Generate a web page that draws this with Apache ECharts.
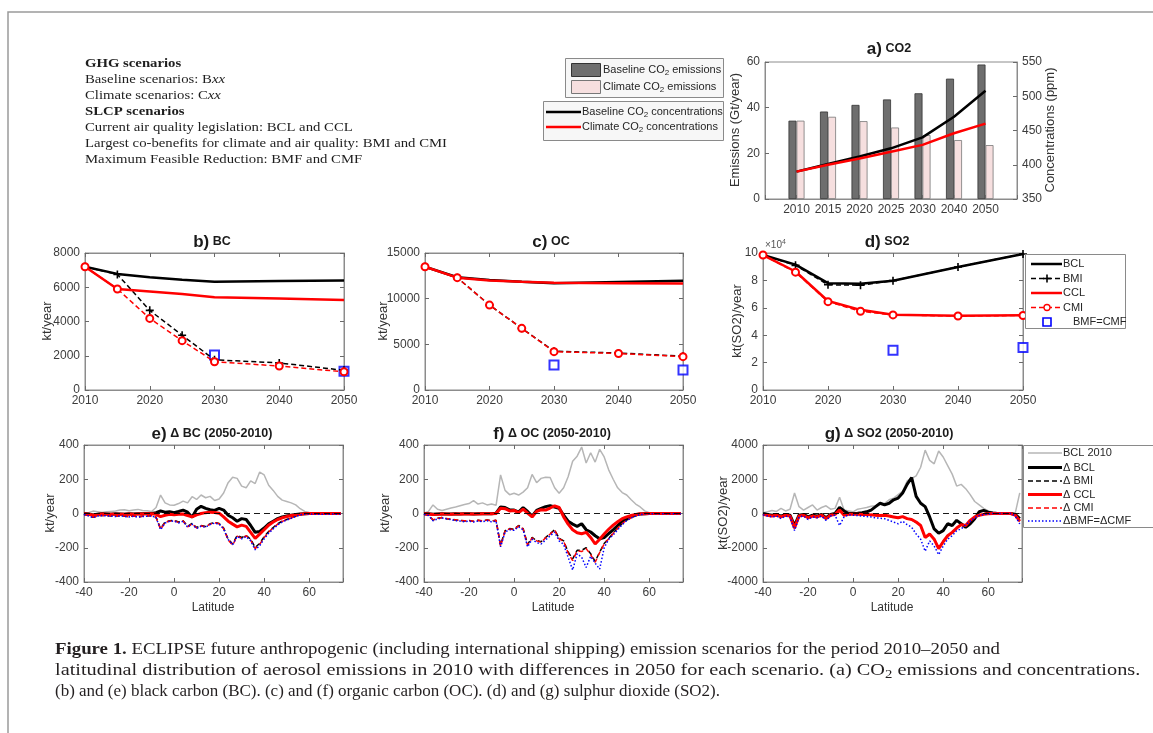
<!DOCTYPE html>
<html><head><meta charset="utf-8">
<script src="https://cdn.jsdelivr.net/npm/echarts@6/dist/echarts.min.js"></script>
<style>html,body{margin:0;padding:0;background:#fff}#c{width:1153px;height:733px}</style>
</head><body><div id="c"></div>
<script>
// ---------------- DATA ----------------
const co2Labels = ['2010','2015','2020','2025','2030','2040','2050'];
const co2EmisBaseline = [34.3, 38.3, 41.2, 43.6, 46.3, 52.7, 58.9];
const co2EmisClimate  = [34.3, 36.0, 34.1, 31.3, 28.0, 25.8, 23.6];
const co2ConcBaseline = [390, 401, 412, 424, 440, 470, 508];
const co2ConcClimate  = [390, 400, 409, 419, 429, 446, 460];

const years = [2010, 2015, 2020, 2025, 2030, 2040, 2050];
const mfYears = [2030, 2050];
const bcBCL = [7200, 6780, 6580, 6440, 6320, 6370, 6390];
const bcBMI = [7200, 6750, 4650, 3200, 1760, 1580, 1150];
const bcCCL = [7200, 5900, 5750, 5600, 5420, 5340, 5260];
const bcCMI = [7200, 5900, 4180, 2880, 1650, 1400, 1060];
const bcMF  = [2050, 1100];
const ocBCL = [13500, 12350, 12050, 11850, 11700, 11830, 11950];
const ocBMI = [13500, 12300, 9300, 6750, 4250, 4050, 3700];
const ocCCL = [13500, 12300, 12000, 11850, 11750, 11700, 11650];
const ocCMI = [13500, 12300, 9300, 6750, 4200, 4000, 3650];
const ocMF  = [2750, 2200];
const so2BCL = [98500, 91500, 78000, 77500, 79800, 89800, 99300];
const so2BMI = [98500, 91000, 76800, 76500, 79800, 89800, 99300];
const so2CCL = [98500, 86500, 65000, 58500, 55000, 54200, 54600];
const so2CMI = [98500, 86000, 64500, 57500, 54800, 54000, 54400];
const so2MF  = [29000, 31000];

const lats = [-40,-38,-36,-34,-32,-30,-28,-26,-24,-22,-20,-18,-16,-14,-12,-10,-8,-6,-4,-2,
  0,2,4,6,8,10,12,14,16,18,20,22,24,26,28,30,32,34,36,38,40,42,44,46,48,50,52,54,56,58,60,62,64,66,68,70,72,74];

const eBase = [2,4,14,10,6,10,12,14,20,22, 16,20,24,18,16,12,35,108,62,50, 48,58,72,62,98,82,108,92,100,76, 85,120,180,212,205,160,150,190,175,242, 225,165,135,100,78,70,62,50,28,12, 6,4,3,2,2,1,1,1];
const eBCL = [0,-3,-8,-5,-2,-3,-4,-2,-3,-4, -2,-3,-2,-1,0,0,5,15,8,10, 5,12,20,8,-22,25,42,30,22,18, 30,20,-10,-25,-45,-30,-35,-70,-110,-105, -85,-60,-45,-30,-20,-15,-10,-6,-3,-1, 0,0,0,0,0,0,0,0];
const eBMI = [-5,-12,-22,-14,-10,-12,-14,-16,-12,-16, -18,-14,-20,-16,-14,-12,-22,-88,-50,-42, -40,-50,-42,-75,-58,-82,-70,-76,-60,-52, -58,-85,-150,-178,-128,-140,-128,-150,-198,-175, -135,-105,-82,-60,-45,-35,-25,-15,-6,-3, -2,-3,-4,-3,-3,-2,-3,-2];
const eCCL = [-2,-4,-10,-6,-3,-4,-5,-4,-4,-5, -3,-4,-3,-3,-2,-2,-5,-18,-10,-4, -8,-5,-3,-12,-20,-8,0,5,8,6, 2,-20,-45,-62,-78,-68,-75,-110,-145,-120, -95,-68,-50,-35,-25,-18,-12,-8,-4,-2, 0,0,0,0,0,0,0,0];
const eCMI = [-5,-12,-21,-14,-10,-12,-13,-16,-12,-15, -18,-14,-19,-16,-14,-12,-22,-92,-52,-44, -42,-52,-44,-78,-60,-85,-72,-78,-62,-54, -60,-88,-155,-185,-132,-145,-130,-155,-205,-180, -140,-108,-84,-62,-46,-36,-26,-16,-6,-3, -2,-3,-4,-3,-3,-2,-3,-2];
const eBMF = [-6,-14,-24,-16,-12,-14,-15,-18,-14,-17, -20,-16,-21,-18,-16,-14,-24,-95,-55,-46, -44,-55,-46,-80,-62,-88,-74,-80,-64,-56, -62,-90,-152,-182,-134,-148,-135,-160,-212,-188, -148,-115,-90,-66,-50,-38,-28,-18,-8,-4, -3,-4,-5,-4,-4,-3,-4,-3];

const fBase = [2,12,50,25,18,25,32,38,45,52, 58,75,55,62,50,56,48,225,135,110, 118,108,125,150,228,180,205,212,210,150, 118,150,215,305,335,388,295,355,300,375, 330,255,200,150,122,108,80,55,38,15, 4,2,1,1,1,0,0,0];
const fBCL = [0,-2,-5,-3,-2,-3,-3,-2,-3,-2, -2,-3,-2,-2,-1,-1,2,38,35,22, 20,8,35,12,-15,18,30,40,45,38, 30,-10,-45,-62,-75,-60,-95,-108,-130,-148, -140,-118,-95,-70,-45,-28,-15,-7,-3,-1, 0,0,0,0,0,0,0,0];
const fBMI = [-4,-10,-38,-28,-24,-30,-34,-38,-40,-44, -40,-46,-40,-44,-38,-44,-40,-185,-100,-88, -92,-70,-88,-180,-140,-158,-165,-140,-118,-95, -145,-160,-225,-265,-215,-215,-200,-235,-280,-225, -175,-145,-115,-85,-58,-38,-24,-14,-5,-1, -1,-1,-1,-1,-1,-1,-1,-1];
const fCCL = [-1,-3,-6,-4,-3,-3,-4,-3,-3,-3, -3,-3,-3,-2,-2,-2,0,30,28,15, 18,5,25,2,-20,12,22,20,32,45, 35,-20,-62,-95,-112,-118,-110,-140,-178,-150, -120,-92,-68,-48,-30,-20,-12,-6,-2,-1, 0,0,0,0,0,0,0,0];
const fCMI = [-4,-10,-37,-28,-24,-29,-34,-37,-40,-43, -40,-45,-40,-43,-38,-43,-40,-190,-102,-90, -94,-72,-90,-185,-142,-160,-168,-142,-120,-97, -148,-162,-230,-275,-218,-222,-205,-240,-285,-228, -178,-147,-117,-86,-59,-39,-25,-14,-5,-1, -1,-1,-1,-1,-1,-1,-1,-1];
const fBMF = [-5,-12,-42,-32,-26,-32,-36,-42,-44,-48, -44,-50,-44,-48,-42,-48,-44,-195,-108,-95, -98,-78,-95,-195,-150,-170,-178,-155,-130,-108, -160,-180,-255,-330,-235,-255,-315,-250,-290,-325, -200,-150,-125,-95,-65,-42,-26,-15,-6,-2, -1,-1,-1,-1,-1,-1,-1,-1];

const gBase = [50,100,180,120,300,150,250,1200,400,200, 350,500,200,350,450,250,300,950,200,150, 100,250,300,350,420,450,550,600,800,900, 1100,1300,1900,2050,2200,2700,3700,3100,2900,3650, 3300,2800,2300,1600,1700,1450,1100,700,500,300, 150,80,50,30,20,10,20,1200];
const gBCL = [0,-50,-100,-50,-150,-50,-100,-700,-100,-50, -200,-100,-150,-50,-250,-50,0,350,150,0, 0,20,50,100,200,400,600,500,600,800, 900,1200,1700,2100,1000,600,400,-200,-900,-1150, -1000,-600,-700,-400,-600,-800,-600,-300,100,180, 80,30,0,0,0,0,-50,-300];
const gBMI = [-50,-100,-150,-100,-200,-100,-150,-850,-150,-100, -250,-150,-200,-100,-300,-100,-50,180,-100,-50, -40,-50,-60,-60,-90,-110,-130,-110,-160,-210, -260,-190,-310,-360,-520,-720,-1420,-1220,-1520,-2060, -1660,-1310,-1110,-860,-660,-710,-410,-210,-100,-50, -20,0,0,0,0,0,-100,-450];
const gCCL = [-50,-100,-150,-100,-200,-100,-150,-850,-150,-100, -250,-150,-200,-100,-300,-100,-50,200,-100,-50, -40,-50,-60,-50,-80,-100,-120,-100,-150,-200, -250,-180,-300,-350,-500,-700,-1400,-1200,-1500,-2050, -1650,-1300,-1100,-850,-650,-700,-400,-200,-100,-50, -20,0,0,0,0,0,-100,-450];
const gCMI = [-50,-100,-150,-100,-200,-100,-150,-870,-150,-100, -250,-150,-200,-100,-300,-100,-50,190,-100,-50, -40,-50,-60,-55,-85,-105,-125,-105,-155,-205, -255,-185,-305,-355,-510,-710,-1410,-1210,-1510,-2060, -1660,-1300,-1100,-850,-650,-700,-400,-200,-100,-50, -20,0,0,0,0,0,-100,-450];
const gBMF = [-80,-150,-200,-150,-300,-150,-200,-1000,-200,-150, -350,-200,-250,-150,-400,-150,-100,-700,-200,-80, -100,-120,-150,-180,-200,-250,-280,-300,-400,-500, -600,-450,-650,-800,-1200,-1500,-2200,-1600,-1900,-2400, -1900,-1500,-1300,-1000,-900,-650,-450,-250,-120,-60, -30,0,0,0,0,0,-150,-600];

// ---------------- STYLE / LAYOUT ----------------
const SANS = '"Liberation Sans", Arial, sans-serif';
const SERIF = '"Liberation Serif", "Times New Roman", serif';
const AX = '#8c8c8c', TICKC = '#6a6a6a', LBL = '#3c3c3c';
const RED = '#ff0000', BLUE = '#0000ff', GRAY = '#b6b6b6';
const PLUS = 'path://M4,0H6V4H10V6H6V10H4V6H0V4H4Z';

const grids = [], xAxes = [], yAxes = [], series = [], G = [];

function mkAxis(gi, pos, r, labels) {
  return {
    type: 'value', gridIndex: gi, position: pos, min: r[0], max: r[1], interval: r[2],
    axisLine: {show: true, onZero: false, lineStyle: {color: AX, width: 1}},
    axisTick: {show: true, inside: true, length: 4, lineStyle: {color: TICKC, width: 1}},
    axisLabel: {show: labels, color: LBL, fontSize: 12, fontFamily: SANS, margin: 5,
      formatter: v => String(v)},
    splitLine: {show: false}
  };
}
function panel(box, xr, yr, o) {
  o = o || {};
  const gi = grids.length;
  grids.push({left: box[0], top: box[1], width: box[2], height: box[3], show: true,
    borderColor: AX, borderWidth: 1, backgroundColor: '#fff'});
  const xi = xAxes.length;
  const xb = mkAxis(gi, 'bottom', xr, true);
  if (o.xfmt) xb.axisLabel.formatter = o.xfmt;
  xAxes.push(xb);
  if (!o.noTop) xAxes.push(mkAxis(gi, 'top', xr, false));
  const yi = yAxes.length;
  const yl = mkAxis(gi, 'left', yr, true);
  if (o.yfmt) yl.axisLabel.formatter = o.yfmt;
  yAxes.push(yl);
  yAxes.push(o.right ? mkAxis(gi, 'right', o.right, true) : mkAxis(gi, 'right', yr, false));
  return {xi, yi, yri: yi + 1};
}
function ln(ax, data, color, width, dash, extra) {
  return Object.assign({type: 'line', xAxisIndex: ax.xi, yAxisIndex: ax.yi, data,
    symbol: 'none', showSymbol: false, animation: false, silent: true,
    lineStyle: {color, width, type: dash || 'solid'}, itemStyle: {color}}, extra || {});
}
const pairs = (xs, vs) => xs.map((x, i) => [x, vs[i]]);

// ---- panel a ----
const A = panel([765, 62, 252, 137], [0, 8, 1], [0, 60, 20],
  {noTop: true, right: [350, 550, 50], xfmt: v => co2Labels[v - 1] || ''});
const slots = co2Labels.map((l, i) => i + 1);
series.push({type: 'bar', xAxisIndex: A.xi, yAxisIndex: A.yi, data: pairs(slots, co2EmisBaseline),
  barWidth: 8, barGap: '0%', itemStyle: {color: '#6e6e6e', borderColor: '#333', borderWidth: 0.8}, silent: true});
series.push({type: 'bar', xAxisIndex: A.xi, yAxisIndex: A.yi, data: pairs(slots, co2EmisClimate),
  barWidth: 8, barGap: '0%', itemStyle: {color: '#f6dfdf', borderColor: '#777', borderWidth: 0.8}, silent: true});
series.push(ln({xi: A.xi, yi: A.yri}, pairs(slots, co2ConcBaseline), '#000', 2.5));
series.push(ln({xi: A.xi, yi: A.yri}, pairs(slots, co2ConcClimate), RED, 2.5));

// ---- panels b, c, d ----
function yearPanel(box, yr, d, o) {
  const P = panel(box, [2010, 2050, 10], yr, o);
  series.push(ln(P, pairs(years, d[0]), '#000', 2.5));
  series.push(ln(P, pairs(years, d[1]), '#000', 1.5, [5, 3], {symbol: PLUS, showSymbol: true, symbolSize: 8}));
  series.push(ln(P, pairs(years, d[2]), RED, 2.5));
  series.push(ln(P, pairs(years, d[3]), RED, 1.5, [5, 3], {symbol: 'emptyCircle', showSymbol: true, symbolSize: 7, itemStyle: {color: RED, borderWidth: 1.3}}));
  series.push({type: 'scatter', xAxisIndex: P.xi, yAxisIndex: P.yi, data: pairs(mfYears, d[4]), silent: true,
    symbol: 'emptyRect', symbolSize: 9, itemStyle: {color: BLUE, borderWidth: 1.6}});
}
yearPanel([85, 253, 259, 137], [0, 8000, 2000], [bcBCL, bcBMI, bcCCL, bcCMI, bcMF]);
yearPanel([425, 253, 258, 137], [0, 15000, 5000], [ocBCL, ocBMI, ocCCL, ocCMI, ocMF]);
yearPanel([763, 253, 260, 137], [0, 100000, 20000], [so2BCL, so2BMI, so2CCL, so2CMI, so2MF], {yfmt: v => String(v / 10000)});

// ---- panels e, f, g ----
function latPanel(box, yr, d) {
  const P = panel(box, [-40, 75, 20], yr, {xfmt: v => (v > 60 ? '' : String(v))});
  series.push(ln(P, pairs(lats, d[0]), GRAY, 1.5, 'solid', {markLine: {silent: true, symbol: 'none', label: {show: false},
    lineStyle: {color: '#000', width: 0.9, type: [6, 4]}, data: [{yAxis: 0}]}}));
  series.push(ln(P, pairs(lats, d[1]), '#000', 3));
  series.push(ln(P, pairs(lats, d[2]), '#000', 1.5, [5, 3]));
  series.push(ln(P, pairs(lats, d[3]), RED, 3));
  series.push(ln(P, pairs(lats, d[4]), RED, 1.5, [5, 3]));
  series.push(ln(P, pairs(lats, d[5]), BLUE, 1.5, [1.5, 2]));
}
latPanel([84, 445, 259, 137], [-400, 400, 200], [eBase, eBCL, eBMI, eCCL, eCMI, eBMF]);
latPanel([424, 445, 259, 137], [-400, 400, 200], [fBase, fBCL, fBMI, fCCL, fCMI, fBMF]);
latPanel([763, 445, 259, 137], [-4000, 4000, 2000], [gBase, gBCL, gBMI, gCCL, gCMI, gBMF]);

// ---------------- TEXT / LEGENDS ----------------
function richSet(size, fam, col, w) {
  w = w || 'normal';
  const ss = Math.round(size * 0.72);
  return {
    s: {font: `${w} ${ss}px ${fam}`, fill: col, padding: [Math.round(size * 0.5), 0, 0, 0]},
    p: {font: `${w} ${ss}px ${fam}`, fill: col, padding: [0, 0, Math.round(size * 0.55), 0]},
    b: {font: `bold ${size}px ${fam}`, fill: col},
    i: {font: `italic ${size}px ${fam}`, fill: col}
  };
}
function txt(x, y, text, size, o) {
  o = o || {};
  const fam = o.family || SANS, col = o.color || '#262626', w = o.weight || 'normal';
  return {type: 'text', x, y, rotation: o.rot || 0, scaleX: o.sx || 1, silent: true, z: 100,
    style: {text, font: `${w} ${size}px ${fam}`, fill: col, align: o.align || 'left',
      verticalAlign: 'middle', rich: o.rich || richSet(size, fam, col, w)}};
}
function gline(x1, y1, x2, y2, color, width, dash) {
  return {type: 'line', silent: true, z: 100, shape: {x1, y1, x2, y2},
    style: {stroke: color, lineWidth: width, lineDash: dash || null}};
}
function grect(x, y, w, h, fill, stroke, lw) {
  return {type: 'rect', silent: true, z: 99, shape: {x, y, width: w, height: h},
    style: {fill, stroke, lineWidth: lw || 1}};
}

// frame
G.push({type: 'polyline', silent: true, z: 1, shape: {points: [[8, 733], [8, 12], [1153, 12]]},
  style: {stroke: '#9a9a9a', lineWidth: 1.5, fill: null}});

// measuring for serif text blocks
const mctx = document.createElement('canvas').getContext('2d');
function measure(str, font) { mctx.font = font; return mctx.measureText(str).width; }

// scenario text block
const tbSize = 13.5;
const tbScale = 362 / measure('Largest co-benefits for climate and air quality: BMI and CMI', `normal ${tbSize}px ${SERIF}`);
const tbLines = ['{b|GHG scenarios}', 'Baseline scenarios: B{i|xx}', 'Climate scenarios: C{i|xx}', '{b|SLCP scenarios}',
  'Current air quality legislation: BCL and CCL', 'Largest co-benefits for climate and air quality: BMI and CMI',
  'Maximum Feasible Reduction: BMF and CMF'];
tbLines.forEach((t, i) => G.push(txt(85, 64 + 15.9 * i, t, tbSize, {family: SERIF, color: '#1e1e1e', sx: tbScale})));

// caption: each line condensed horizontally to the original line length
const capSize = 16.5;
const capFont = `normal ${capSize}px ${SERIF}`, capBold = `bold ${capSize}px ${SERIF}`;
const capLines = ['{b|Figure 1.} ECLIPSE future anthropogenic (including international shipping) emission scenarios for the period 2010\u20132050 and',
  'latitudinal distribution of aerosol emissions in 2010 with differences in 2050 for each scenario. (a) CO{s|2} emissions and concentrations.',
  '(b) and (e) black carbon (BC). (c) and (f) organic carbon (OC). (d) and (g) sulphur dioxide (SO2).'];
const capEnds = [1000, 1143, 720];
const capWidths = [
  measure('Figure 1.', capBold) + measure(' ECLIPSE future anthropogenic (including international shipping) emission scenarios for the period 2010\u20132050 and', capFont),
  measure('latitudinal distribution of aerosol emissions in 2010 with differences in 2050 for each scenario. (a) CO2 emissions and concentrations.', capFont),
  measure('(b) and (e) black carbon (BC). (c) and (f) organic carbon (OC). (d) and (g) sulphur dioxide (SO2).', capFont)];
capLines.forEach((t, i) => G.push(txt(55, 650 + 21 * i, t, capSize,
  {family: SERIF, color: '#231f20', sx: (capEnds[i] - 55) / capWidths[i]})));

// panel titles
function title(x, y, a, b) {
  return {type: 'text', x, y, silent: true, z: 100, style: {text: `{a|${a}} {b|${b}}`, font: `bold 13px ${SANS}`, fill: '#1a1a1a',
    align: 'center', verticalAlign: 'middle', rich: {a: {font: `bold 17px ${SANS}`, fill: '#1a1a1a'}, b: {font: `bold 12.5px ${SANS}`, fill: '#1a1a1a'}}}};
}
G.push(title(889, 49, 'a)', 'CO2'));
G.push(title(212, 242, 'b)', 'BC'));
G.push(title(551, 242, 'c)', 'OC'));
G.push(title(887, 242, 'd)', 'SO2'));
G.push(title(212, 434, 'e)', '\u0394 BC (2050-2010)'));
G.push(title(552, 434, 'f)', '\u0394 OC (2050-2010)'));
G.push(title(889, 434, 'g)', '\u0394 SO2 (2050-2010)'));

// axis names
const R90 = Math.PI / 2;
G.push(txt(735, 130, 'Emissions (Gt/year)', 13, {rot: R90, align: 'center', color: '#333'}));
G.push(txt(1050, 130, 'Concentrations (ppm)', 13, {rot: R90, align: 'center', color: '#333'}));
G.push(txt(47, 321, 'kt/year', 13, {rot: R90, align: 'center', color: '#333'}));
G.push(txt(383, 321, 'kt/year', 13, {rot: R90, align: 'center', color: '#333'}));
G.push(txt(737, 321, 'kt(SO2)/year', 13, {rot: R90, align: 'center', color: '#333'}));
G.push(txt(50, 513, 'kt/year', 13, {rot: R90, align: 'center', color: '#333'}));
G.push(txt(385, 513, 'kt/year', 13, {rot: R90, align: 'center', color: '#333'}));
G.push(txt(723, 513, 'kt(SO2)/year', 13, {rot: R90, align: 'center', color: '#333'}));
G.push(txt(213, 608, 'Latitude', 12, {align: 'center', color: '#333'}));
G.push(txt(553, 608, 'Latitude', 12, {align: 'center', color: '#333'}));
G.push(txt(892, 608, 'Latitude', 12, {align: 'center', color: '#333'}));
G.push(txt(765, 245, '\u00d710{p|4}', 10, {color: '#555'}));

// legend a
G.push(grect(565.5, 58.5, 158, 39, '#f7f7f7', '#8a8a8a'));
G.push(grect(571.5, 63.5, 29, 13, '#6e6e6e', '#333'));
G.push(txt(603, 69.5, 'Baseline CO{s|2} emissions', 11));
G.push(grect(571.5, 80.5, 29, 13, '#f6dfdf', '#777'));
G.push(txt(603, 86.5, 'Climate CO{s|2} emissions', 11));
G.push(grect(543.5, 101.5, 180, 39, '#f7f7f7', '#8a8a8a'));
G.push(gline(546, 112, 581, 112, '#000', 2.5));
G.push(txt(582, 112, 'Baseline CO{s|2} concentrations', 11));
G.push(gline(546, 127, 581, 127, RED, 2.5));
G.push(txt(582, 127, 'Climate CO{s|2} concentrations', 11));

// legend d
G.push(grect(1025.5, 254.5, 100, 74, '#fff', '#8a8a8a'));
const dY = [264, 278.5, 293, 307.5, 322];
G.push(gline(1031, dY[0], 1062, dY[0], '#000', 2.5));
G.push(txt(1063, dY[0], 'BCL', 11));
G.push(gline(1031, dY[1], 1062, dY[1], '#000', 1.5, [5, 3]));
G.push(gline(1043, dY[1], 1051, dY[1], '#000', 1.6));
G.push(gline(1047, dY[1] - 4, 1047, dY[1] + 4, '#000', 1.6));
G.push(txt(1063, dY[1], 'BMI', 11));
G.push(gline(1031, dY[2], 1062, dY[2], RED, 2.5));
G.push(txt(1063, dY[2], 'CCL', 11));
G.push(gline(1031, dY[3], 1062, dY[3], RED, 1.5, [5, 3]));
G.push({type: 'circle', silent: true, z: 101, shape: {cx: 1047, cy: dY[3], r: 3}, style: {fill: '#fff', stroke: RED, lineWidth: 1.3}});
G.push(txt(1063, dY[3], 'CMI', 11));
G.push({type: 'rect', silent: true, z: 101, shape: {x: 1043, y: dY[4] - 4, width: 8, height: 8}, style: {fill: null, stroke: BLUE, lineWidth: 1.6}});
G.push(txt(1073, dY[4], 'BMF=CMF', 11));

// legend g
G.push(grect(1023.5, 445.5, 140, 82, '#fff', '#8a8a8a'));
const gY = [453, 467.5, 481, 494.5, 508, 521];
G.push(gline(1028, gY[0], 1062, gY[0], GRAY, 1.5));
G.push(txt(1063, gY[0], 'BCL 2010', 11));
G.push(gline(1028, gY[1], 1062, gY[1], '#000', 3));
G.push(txt(1063, gY[1], '\u0394 BCL', 11));
G.push(gline(1028, gY[2], 1062, gY[2], '#000', 1.5, [5, 3]));
G.push(txt(1063, gY[2], '\u0394 BMI', 11));
G.push(gline(1028, gY[3], 1062, gY[3], RED, 3));
G.push(txt(1063, gY[3], '\u0394 CCL', 11));
G.push(gline(1028, gY[4], 1062, gY[4], RED, 1.5, [5, 3]));
G.push(txt(1063, gY[4], '\u0394 CMI', 11));
G.push(gline(1028, gY[5], 1062, gY[5], BLUE, 1.5, [1.5, 2]));
G.push(txt(1063, gY[5], '\u0394BMF=\u0394CMF', 11));

const chart = echarts.init(document.getElementById('c'), null, {renderer: 'canvas'});
chart.setOption({
  animation: false, backgroundColor: '#fff',
  textStyle: {fontFamily: SANS},
  grid: grids, xAxis: xAxes, yAxis: yAxes, series,
  graphic: {elements: G}
});
</script></body></html>
